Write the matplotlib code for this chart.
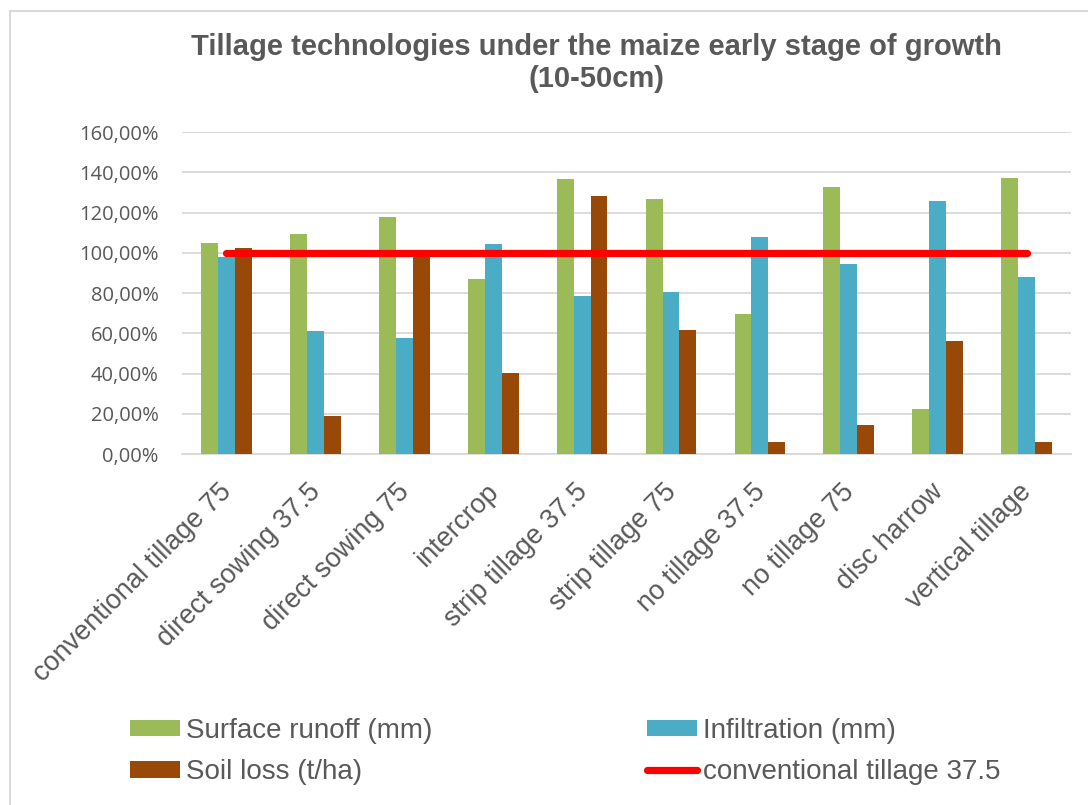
import matplotlib.pyplot as plt
import matplotlib.patches as mpatches
import matplotlib.transforms as mtransforms
import numpy as np

# === ข้อมูล ===
categories = [
    "conventional tillage 75", "direct sowing 37.5", "direct sowing 75",
    "intercrop", "strip tillage 37.5", "strip tillage 75", "no tillage 37.5",
    "no tillage 75", "disc harrow", "vertical tillage",
]
surface_runoff = [105.1, 109.1, 117.7, 87.1, 136.7, 126.5, 69.6, 132.9, 22.3, 137.2]
infiltration = [97.7, 60.9, 57.8, 104.6, 78.4, 80.3, 107.7, 94.2, 125.9, 88.2]
soil_loss = [102.2, 19.1, 99.6, 40.1, 128.2, 61.4, 6.0, 14.5, 56.3, 6.0]
conv_tillage_375 = [100, 100, 100, 100, 100, 100, 100, 100, 100, 100]
y_ticks = [0, 20, 40, 60, 80, 100, 120, 140, 160]

title = "Tillage technologies under the maize early stage of growth\n(10-50cm)"
font = "Liberation Sans"
text_color = "#595959"
grid_color = "#d9d9d9"

# === รูป ===
fig = plt.figure(figsize=(10.88, 8.05), dpi=100)
ax = fig.add_axes([0.1673, 0.436, 0.8171, 0.400])

x = np.arange(len(categories))
w = 0.19
ax.bar(x - w, surface_runoff, w, color="#9BBB59", label="Surface runoff (mm)", zorder=3)
ax.bar(x, infiltration, w, color="#4BACC6", label="Infiltration (mm)", zorder=3)
ax.bar(x + w, soil_loss, w, color="#984807", label="Soil loss (t/ha)", zorder=3)
ax.plot(x, conv_tillage_375, color="#FF0000", lw=5.2, solid_capstyle="round",
        label="conventional tillage 37.5", zorder=4)

ax.set_xlim(-0.5, len(categories) - 0.5)
ax.set_ylim(0, 160)
ax.set_yticks(y_ticks)
ax.set_yticklabels([f"{v:.2f}".replace(".", ",") + "%" for v in y_ticks],
                   fontsize=14.5, color=text_color, family="Open Sans")
ax.yaxis.grid(True, color=grid_color, lw=1.3, zorder=0)
ax.tick_params(axis="y", length=0, pad=17)
ax.tick_params(axis="x", length=0, pad=18)
ax.set_xticks(x)
ax.set_xticklabels(categories, rotation=45, ha="right", rotation_mode="anchor",
                   fontsize=19.5, color=text_color, family=font)
# เลื่อน label แกน x ไปทางซ้ายเล็กน้อย
shift = mtransforms.ScaledTranslation(-0.08, 0, fig.dpi_scale_trans)
for lbl in ax.get_xticklabels():
    lbl.set_transform(lbl.get_transform() + shift)
for s in ["top", "right", "left"]:
    ax.spines[s].set_visible(False)
ax.spines["bottom"].set_color(grid_color)
ax.spines["bottom"].set_linewidth(1.3)

fig.text(0.548, 0.9215, title, ha="center", va="center", fontsize=21,
         fontweight="bold", color=text_color, family=font, linespacing=1.2)

# === legend ===
h, l = ax.get_legend_handles_labels()
order = [1, 3, 2, 0]
leg = fig.legend([h[i] for i in order], [l[i] for i in order], ncol=2,
                 loc="upper left", bbox_to_anchor=(0.1093, 0.122), frameon=False,
                 prop={"family": font, "size": 20}, labelcolor=text_color,
                 handlelength=1.8, handleheight=0.55, handletextpad=0.2,
                 columnspacing=7.75, labelspacing=0.55, borderaxespad=0)

# ขอบ chart area
fig.patches.append(mpatches.Rectangle((10 / 1088, -0.1), 1.2, 1 - 11 / 805 + 0.1,
                                      transform=fig.transFigure, fill=False,
                                      edgecolor=grid_color, lw=1.5))

plt.savefig("out.png", dpi=100)
plt.close()
